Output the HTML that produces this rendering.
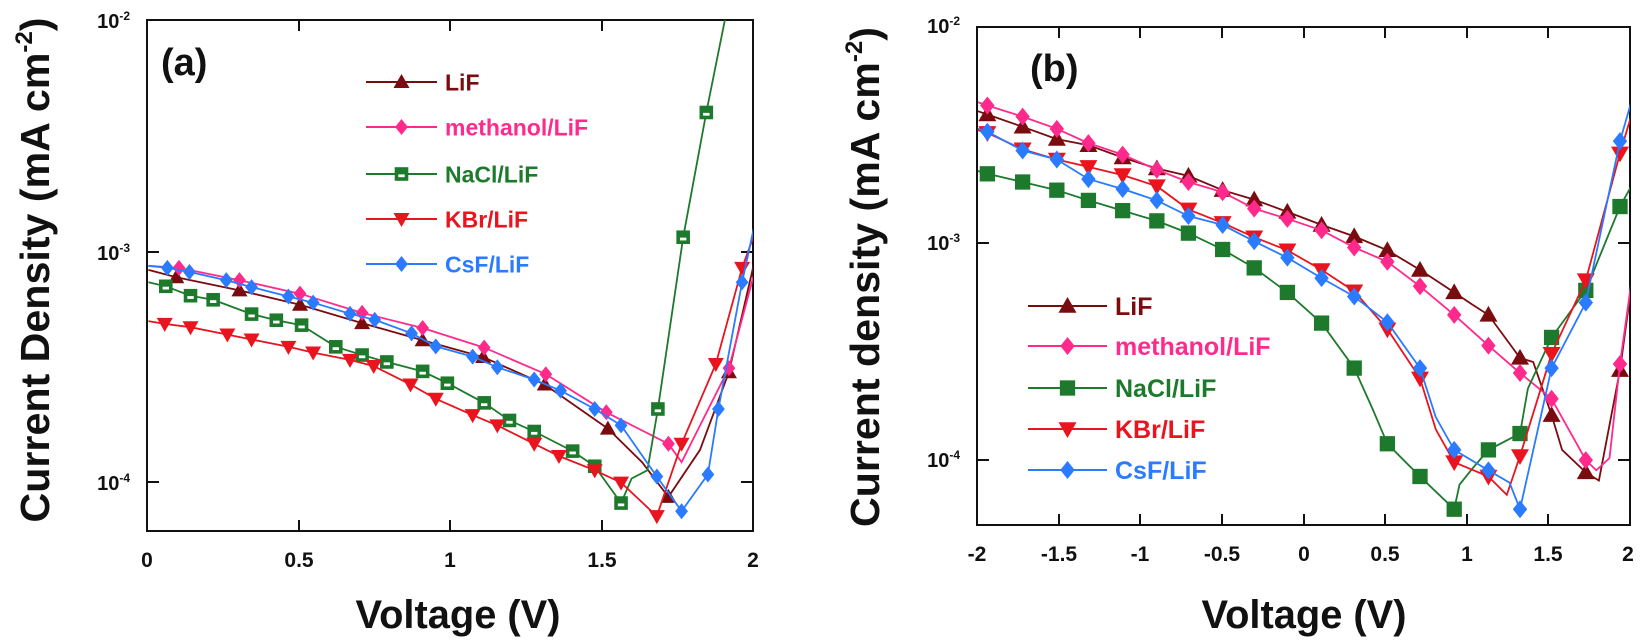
<!DOCTYPE html>
<html><head><meta charset="utf-8"><style>
html,body{margin:0;padding:0;background:#fff;width:1640px;height:640px;overflow:hidden}
svg text{font-family:"Liberation Sans",Arial,sans-serif;font-weight:bold}
</style></head><body>
<svg id="s" width="1640" height="640" xmlns="http://www.w3.org/2000/svg">
<rect x="147" y="20" width="606" height="511" fill="none" stroke="#111" stroke-width="2"/>
<rect x="977" y="27" width="653" height="498" fill="none" stroke="#111" stroke-width="2"/>
<g id="ticks" stroke="#111" stroke-width="2"></g>
<g font-size="21" fill="#111" text-anchor="middle">
<text x="147" y="567">0</text><text x="299" y="567">0.5</text><text x="450" y="567">1</text><text x="602" y="567">1.5</text><text x="753" y="567">2</text>
<text x="977" y="561">-2</text><text x="1059" y="561">-1.5</text><text x="1140" y="561">-1</text><text x="1222" y="561">-0.5</text><text x="1304" y="561">0</text><text x="1385" y="561">0.5</text><text x="1467" y="561">1</text><text x="1548" y="561">1.5</text><text x="1628" y="561">2</text>
</g>
<g font-size="20" fill="#111" text-anchor="end">
<text x="130" y="28">10<tspan font-size="12" dy="-8">-2</tspan></text>
<text x="130" y="260">10<tspan font-size="12" dy="-8">-3</tspan></text>
<text x="130" y="490">10<tspan font-size="12" dy="-8">-4</tspan></text>
<text x="960" y="33">10<tspan font-size="12" dy="-8">-2</tspan></text>
<text x="960" y="250">10<tspan font-size="12" dy="-8">-3</tspan></text>
<text x="960" y="467">10<tspan font-size="12" dy="-8">-4</tspan></text>
</g>
<text x="458" y="628" font-size="40" text-anchor="middle" fill="#111" textLength="205" lengthAdjust="spacingAndGlyphs">Voltage (V)</text>
<text x="1304" y="628" font-size="40" text-anchor="middle" fill="#111" textLength="205" lengthAdjust="spacingAndGlyphs">Voltage (V)</text>
<text transform="translate(49,270) rotate(-90)" font-size="41" text-anchor="middle" fill="#111" textLength="505" lengthAdjust="spacingAndGlyphs">Current Density (mA cm<tspan font-size="24" dy="-17">-2</tspan><tspan dy="17">)</tspan></text>
<text transform="translate(879,277) rotate(-90)" font-size="41" text-anchor="middle" fill="#111" textLength="500" lengthAdjust="spacingAndGlyphs">Current density (mA cm<tspan font-size="24" dy="-17">-2</tspan><tspan dy="17">)</tspan></text>
<text x="161" y="75" font-size="38" fill="#111">(a)</text>
<text x="1030" y="81" font-size="38" fill="#111">(b)</text>
<g id="data"></g>
</svg>
<script>
var NS="http://www.w3.org/2000/svg";
var col={LiF:"#7a0c10",m:"#ff2a8c",N:"#1d7a2c",K:"#e8141e",C:"#2a7bff"};
var ticks=document.getElementById("ticks");
function ln(x1,y1,x2,y2){var e=document.createElementNS(NS,"line");e.setAttribute("x1",x1);e.setAttribute("y1",y1);e.setAttribute("x2",x2);e.setAttribute("y2",y2);ticks.appendChild(e);}
[147,299,450,602,753].forEach(function(x){ln(x,531,x,520);ln(x,20,x,31);});
[252,482].forEach(function(y){ln(147,y,159,y);ln(753,y,741,y);});
[977,1059,1140,1222,1304,1385,1467,1548,1630].forEach(function(x){ln(x,525,x,514);ln(x,27,x,38);});
[243,460].forEach(function(y){ln(977,y,989,y);ln(1630,y,1618,y);});
var g=document.getElementById("data");
function el(t,a){var e=document.createElementNS(NS,t);for(var k in a)e.setAttribute(k,a[k]);g.appendChild(e);return e;}
function marker(type,x,y,c,s,open){
 s=s||8;
 if(type=="tu")el("polygon",{points:(x)+","+(y-s)+" "+(x-s)+","+(y+s*0.75)+" "+(x+s)+","+(y+s*0.75),fill:c});
 else if(type=="td")el("polygon",{points:(x)+","+(y+s)+" "+(x-s)+","+(y-s*0.75)+" "+(x+s)+","+(y-s*0.75),fill:c});
 else if(type=="d")el("polygon",{points:x+","+(y-s)+" "+(x+s*0.8)+","+y+" "+x+","+(y+s)+" "+(x-s*0.8)+","+y,fill:c});
 else if(type=="sq"){el("rect",{x:x-s*0.85,y:y-s*0.85,width:s*1.7,height:s*1.7,fill:c});if(open)el("rect",{x:x-s*0.4,y:y+s*0.05,width:s*0.8,height:s*0.35,fill:"#fff"});}
}
function series(ox,sx,sy,pts,mk,c,clip,open,s){
 var P=pts.map(function(p){return [ox+p[0]/sx,p[1]/sy,p[2]];});
 el("polyline",{points:P.map(function(p){return p[0].toFixed(1)+","+p[1].toFixed(1)}).join(" "),fill:"none",stroke:c,"stroke-width":1.8,"clip-path":clip});
 P.forEach(function(p){if(!p[2])marker(mk,p[0],p[1],c,s,open);});
}
var cpA=el("clipPath",{id:"ca"});var r=document.createElementNS(NS,"rect");r.setAttribute("x",147);r.setAttribute("y",20);r.setAttribute("width",606);r.setAttribute("height",511);cpA.appendChild(r);
var cpB=el("clipPath",{id:"cb"});r=document.createElementNS(NS,"rect");r.setAttribute("x",977);r.setAttribute("y",27);r.setAttribute("width",653);r.setAttribute("height",498);cpB.appendChild(r);
var sx=1.9,sy=2.445;
function A(pts,mk,c,open){series(0,sx,sy,pts,mk,c,"url(#ca)",open,8);}
function B(pts,mk,c,open){series(820,sx,sy,pts,mk,c,"url(#cb)",open,9);}
A([[282,660,1],[335,678],[455,710],[570,745],[688,790],[803,832],[918,873],[1035,940],[1155,1048],[1220,1130,1],[1270,1215],[1330,1100,1],[1385,910],[1437,620,1]],"tu",col.LiF);
A([[282,650,1],[340,655],[455,685],[570,718],[688,765],[803,802],[920,850],[1037,915],[1152,1008],[1270,1085],[1295,1130,1],[1385,900],[1437,650,1]],"d",col.m);
A([[282,690,1],[315,700],[362,723],[405,733],[478,768],[525,783],[573,795],[638,848],[688,868],[735,885],[803,908],[850,937],[920,985],[968,1028],[1015,1055],[1088,1103],[1130,1140],[1180,1230],[1200,1170,1],[1230,1150,1],[1250,1000],[1298,580],[1342,275],[1385,0,1]],"sq",col.N,true);
A([[282,785,1],[313,792],[362,800],[432,818],[478,830],[548,848],[595,862],[665,880],[710,895],[780,940],[828,975],[898,1015],[945,1040],[1015,1085],[1062,1115],[1130,1150],[1180,1180],[1248,1262],[1295,1085],[1360,890],[1410,655],[1437,560,1]],"td",col.K);
A([[282,650,1],[318,655],[360,665],[430,685],[478,702],[548,725],[595,740],[665,767],[712,782],[782,815],[828,847],[898,872],[945,898],[1015,928],[1065,955],[1130,1000],[1180,1040],[1248,1165],[1295,1250],[1345,1160],[1365,1000],[1410,690],[1437,530,1]],"d",col.C);
B([[300,272,1],[318,280],[385,310],[450,340],[510,355],[575,385],[640,412],[700,430],[765,465],[825,488],[888,518],[953,550],[1015,578],[1078,612],[1140,660],[1205,715],[1240,745,1],[1270,770],[1330,875],[1355,885,1],[1390,1015],[1410,1100,1],[1455,1155],[1480,1175,1],[1520,905],[1548,640,1]],"tu",col.LiF);
B([[300,250,1],[318,258],[385,285],[450,315],[510,350],[575,378],[640,415],[700,445],[765,470],[825,510],[888,535],[953,563],[1015,605],[1078,640],[1140,700],[1205,770],[1270,845],[1330,912],[1390,975],[1455,1125],[1475,1150,1],[1500,1120,1],[1520,890],[1548,630,1]],"d",col.m);
B([[300,418,1],[318,425],[385,445],[450,465],[510,490],[575,515],[640,540],[700,570],[765,610],[825,655],[888,715],[953,790],[1015,900],[1050,1000,1],[1078,1085],[1140,1165],[1205,1245],[1215,1185,1],[1240,1145,1],[1270,1100],[1330,1060],[1345,950,1],[1390,825],[1455,710],[1520,505],[1548,440,1]],"sq",col.N);
B([[300,318,1],[318,325],[385,365],[450,390],[510,408],[575,428],[640,455],[700,512],[765,545],[825,580],[888,612],[953,660],[1015,712],[1078,805],[1140,925],[1170,1050,1],[1205,1130],[1270,1165],[1305,1210,1],[1330,1115],[1390,865],[1455,685],[1520,375],[1548,255,1]],"td",col.K);
B([[300,315,1],[318,322],[385,368],[450,390],[510,438],[575,462],[640,490],[700,528],[765,550],[825,590],[888,630],[953,680],[1015,725],[1078,788],[1140,900],[1170,1020,1],[1205,1100],[1270,1150],[1310,1180,1],[1330,1245],[1390,900],[1455,740],[1520,345],[1548,220,1]],"d",col.C);
function leg(x1,x2,y,mk,c,txt,tx,fs,open,s){el("line",{x1:x1,y1:y,x2:x2,y2:y,stroke:c,"stroke-width":2});marker(mk,(x1+x2)/2,y,c,s,open);var t=el("text",{x:tx,y:y+fs*0.36,"font-size":fs,fill:c});t.textContent=txt;}
var la=[["tu",col.LiF,"LiF"],["d",col.m,"methanol/LiF"],["sq",col.N,"NaCl/LiF"],["td",col.K,"KBr/LiF"],["d",col.C,"CsF/LiF"]];
[82,127,174,219,264].forEach(function(y,i){leg(366,437,y,la[i][0],la[i][1],la[i][2],445,23,i==2,8);});
[306,346,388,429,470].forEach(function(y,i){leg(1028,1107,y,la[i][0],la[i][1],la[i][2],1115,25,false,9);});
</script>
</body></html>
